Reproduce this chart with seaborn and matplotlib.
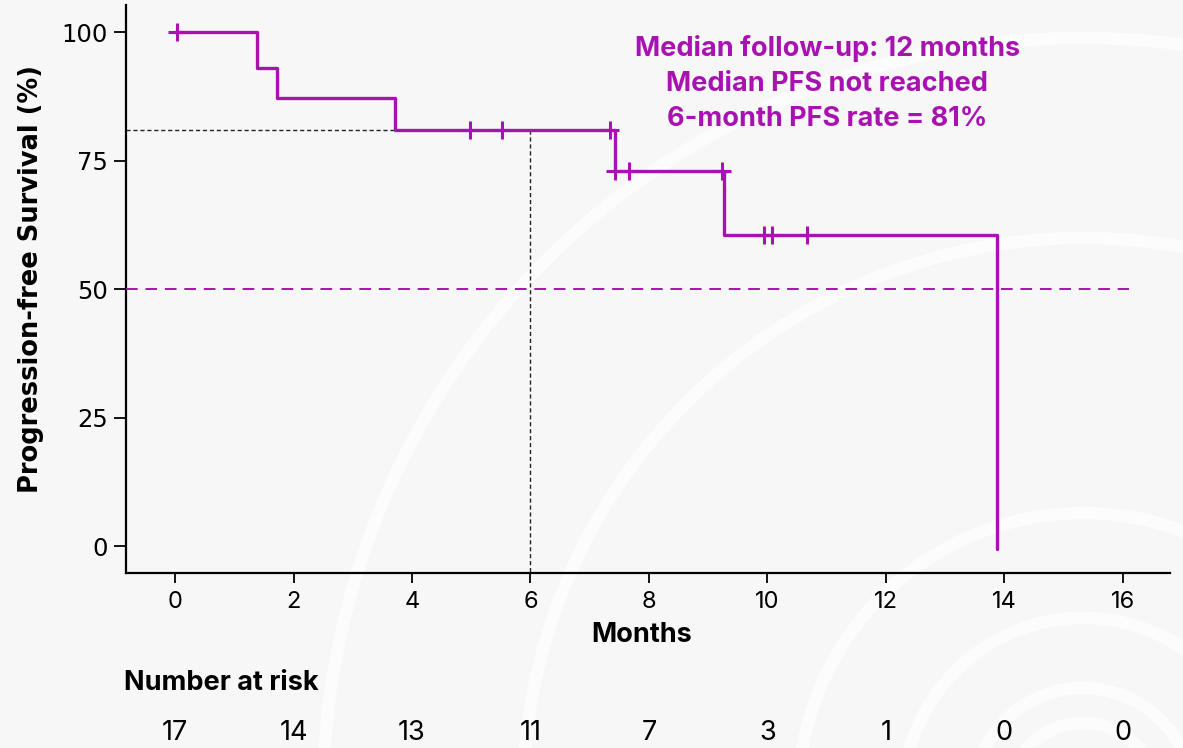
import numpy as np
import pandas as pd
import matplotlib
matplotlib.use("Agg")
import matplotlib.pyplot as plt
import matplotlib.transforms as mtransforms
from matplotlib.patches import Arc
import seaborn as sns

# Kaplan-Meier step points (months, % PFS)
event_months = [0.0, 1.38, 1.72, 3.72, 7.42, 9.27, 13.88]
event_surv = [100.0, 93.0, 87.3, 81.0, 73.1, 60.5, -0.5]

# censored observations
censor_months = [0.03, 4.98, 5.52, 7.35, 7.43, 7.66, 9.23, 9.95, 10.08, 10.67]

# number at risk table
risk_months = [0, 2, 4, 6, 8, 10, 12, 14, 16]
risk_counts = [17, 14, 13, 11, 7, 3, 1, 0, 0]

annotation_lines = ["Median follow-up: 12 months",
                    "Median PFS not reached",
                    "6-month PFS rate = 81%"]

MAGENTA = "#A812B0"
BG = "#F7F7F7"
INTER = ["Inter", "DejaVu Sans"]


def surv_at(t):
    """Valeur de la courbe en escalier au temps t."""
    idx = np.searchsorted(event_months, t, side="right") - 1
    return event_surv[max(idx, 0)]


def main():
    sns.set_theme(style="ticks")
    plt.rcParams["font.family"] = ["Liberation Sans", "DejaVu Sans"]
    plt.rcParams["text.color"] = "black"

    fig = plt.figure(figsize=(11.83, 7.48), dpi=100, facecolor=BG)
    ax = fig.add_axes([0.1065, 0.234, 0.8825, 0.759])
    ax.set_facecolor("none")
    ax.set_zorder(2)

    # fond décoratif : arcs blancs très discrets
    for r in [75, 110, 180, 285, 560, 760]:
        fig.patches.append(Arc((1083 / 1183, -50 / 748), 2 * r / 1183, 2 * r / 748,
                               theta1=0, theta2=180, transform=fig.transFigure,
                               color="#FCFCFC", lw=9, zorder=-5))

    steps = pd.DataFrame({"Months": event_months, "PFS": event_surv})
    sns.lineplot(data=steps, x="Months", y="PFS", drawstyle="steps-post",
                 estimator=None, color=MAGENTA, lw=2.4, ax=ax, zorder=4)
    cens = pd.DataFrame({"Months": censor_months,
                         "PFS": [surv_at(t) for t in censor_months]})
    ax.plot(cens["Months"], cens["PFS"], ls="none", marker="+", ms=13, mew=2.2,
            color=MAGENTA, zorder=5)

    # lignes de référence
    ax.plot([-0.83, 16.1], [50, 50], ls=(0, (6, 4)), color=MAGENTA, lw=1.4, zorder=3)
    ax.plot([-0.83, 6], [81, 81], ls=(0, (3, 2)), color="#222222", lw=1.0, zorder=3)
    ax.plot([6, 6], [81, -5.25], ls=(0, (3, 2)), color="#222222", lw=1.0, zorder=3)

    ax.set_xlim(-0.83, 16.8)
    ax.set_ylim(-5.25, 105.3)
    ax.set_xticks(risk_months)
    ax.set_yticks([0, 25, 50, 75, 100])
    sns.despine(ax=ax)
    for s in ["left", "bottom"]:
        ax.spines[s].set_linewidth(1.6)
        ax.spines[s].set_color("black")
    ax.tick_params(axis="y", length=9, width=1.3, labelsize=17.5, colors="black", pad=4)
    ax.tick_params(axis="x", length=7, width=1.3, labelsize=17, colors="black", pad=6)
    for lab in ax.get_yticklabels():
        lab.set_family("DejaVu Sans")
    for lab in ax.get_xticklabels():
        lab.set_family(INTER)

    ax.set_xlabel("Months", fontsize=19.5, fontweight="bold", family=INTER, color="black")
    ax.xaxis.set_label_coords(0.4935, -0.086)
    ax.set_ylabel("Progression-free Survival (%)", fontsize=18.5, fontweight="bold",
                  family="DejaVu Sans", color="black")
    ax.yaxis.set_label_coords(-0.079, 0.518)

    ax.text(11.01, 90.1, "\n".join(annotation_lines), ha="center", va="center",
            color=MAGENTA, fontsize=19.5, fontweight="bold", family=INTER,
            linespacing=1.45)

    # nombre de patients à risque
    fig.text(0.105, 0.087, "Number at risk", fontsize=19.5, fontweight="bold",
             family=INTER, va="center", ha="left")
    trans = mtransforms.blended_transform_factory(ax.transData, fig.transFigure)
    for m, n in zip(risk_months, risk_counts):
        ax.text(m, 0.02, str(n), transform=trans, ha="center", va="center",
                fontsize=19.5, family=INTER, clip_on=False)

    fig.savefig("out.png", dpi=100, facecolor=BG)
    plt.close(fig)


if __name__ == "__main__":
    main()
